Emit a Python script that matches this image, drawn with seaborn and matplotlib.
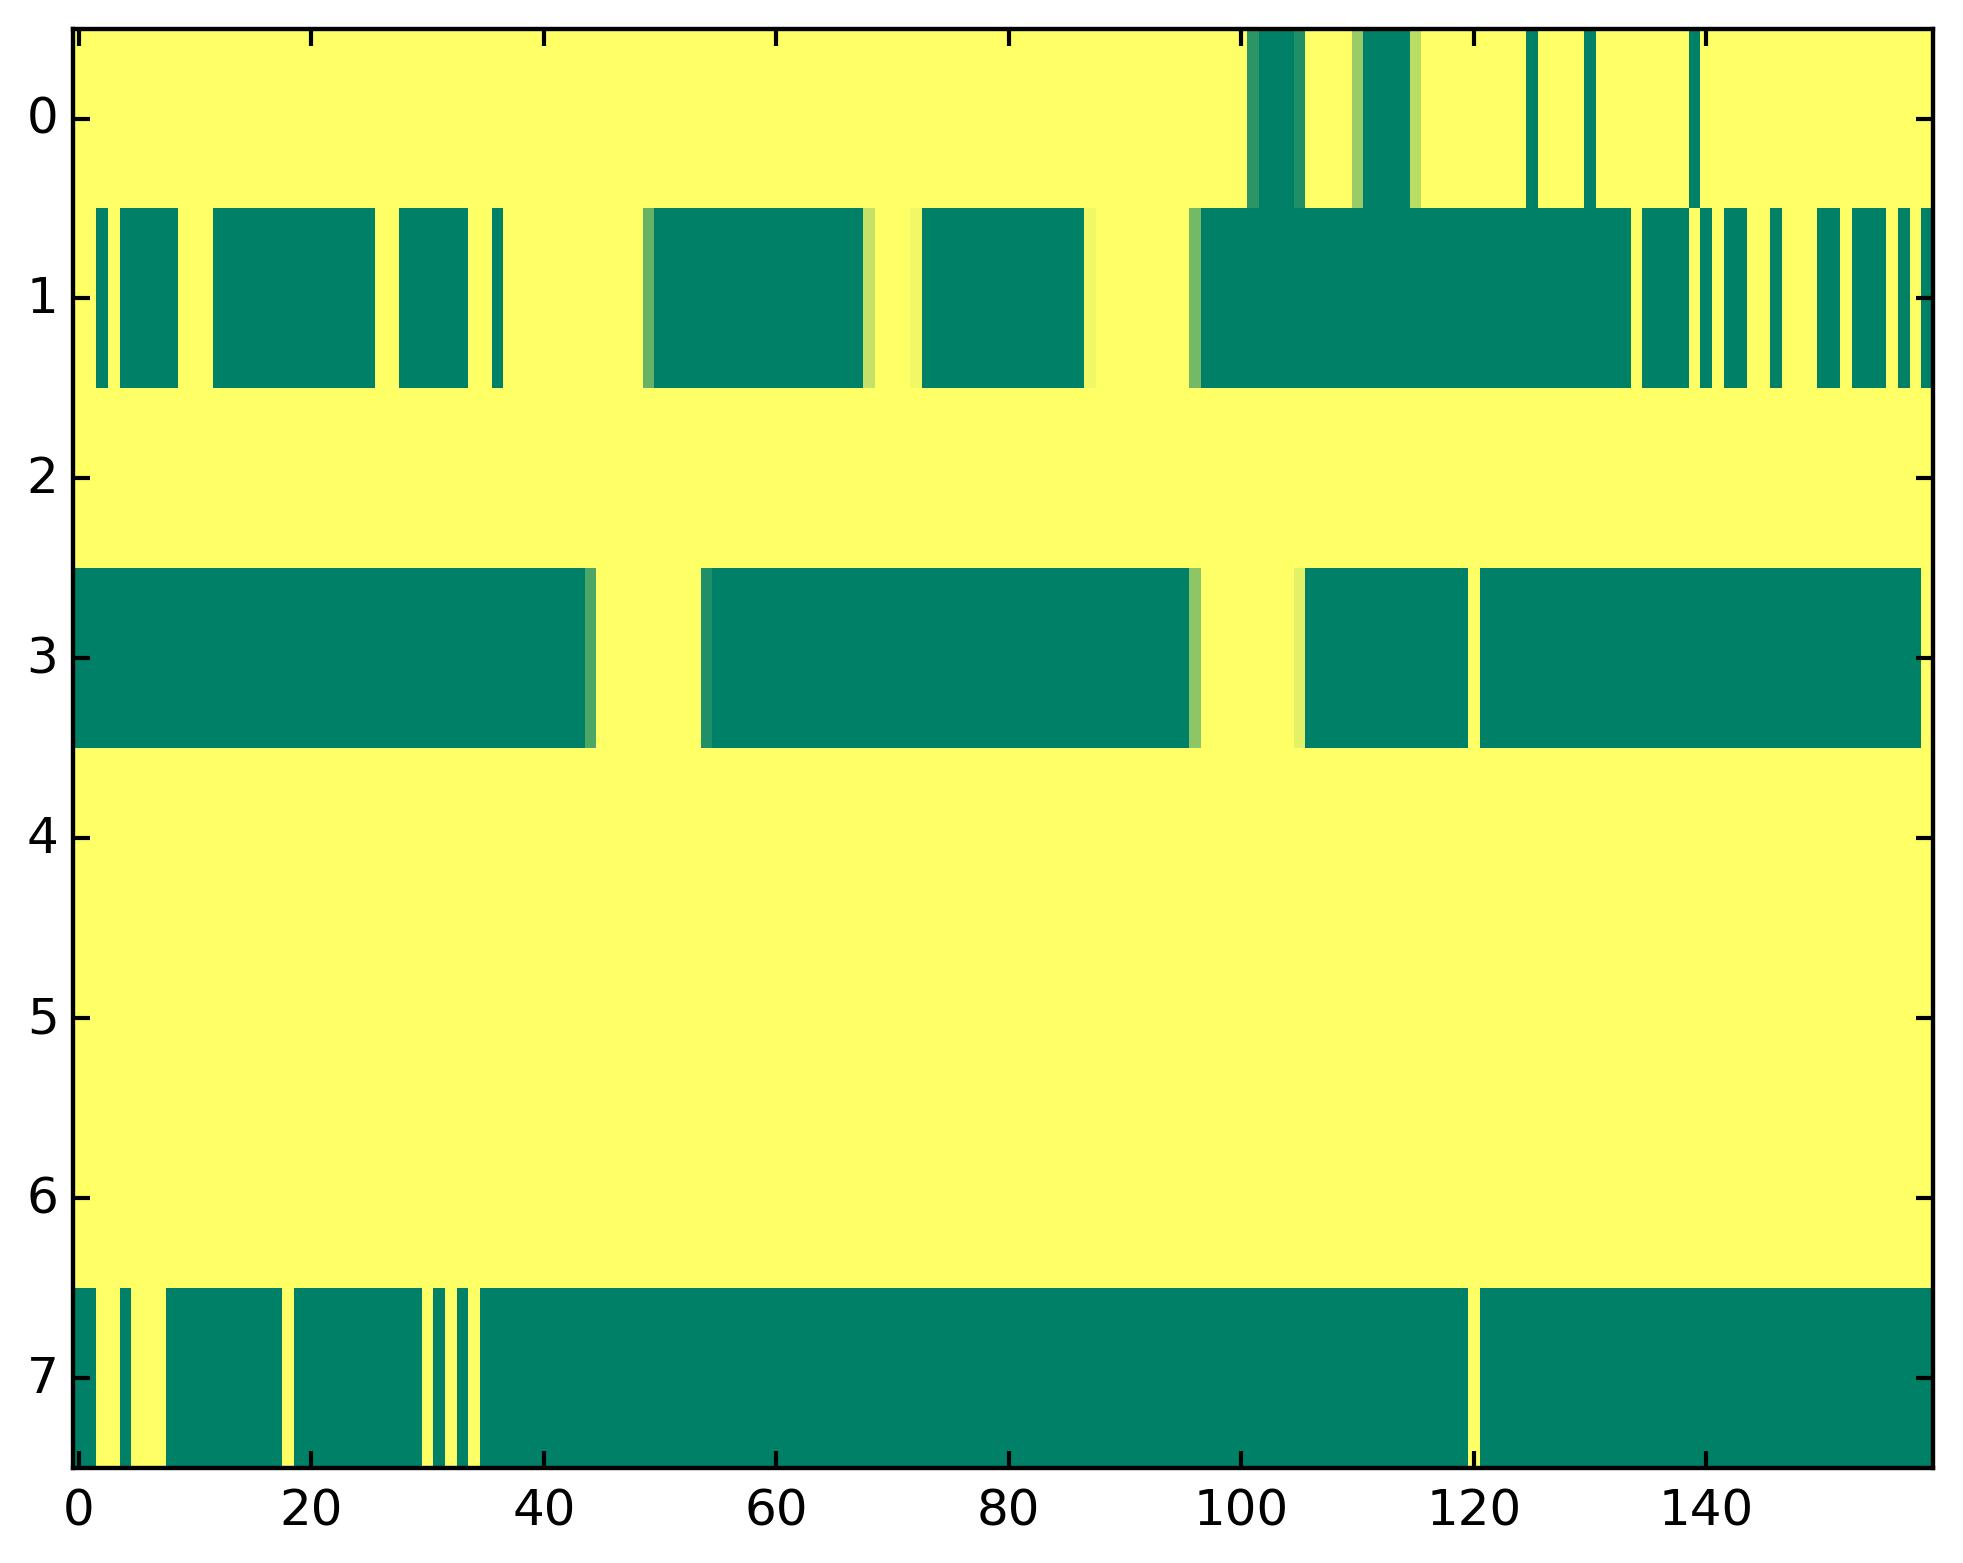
import matplotlib
matplotlib.use("Agg")
import matplotlib.pyplot as plt
import seaborn as sns
import numpy as np
import pandas as pd

# cell values (0 = green, 1 = yellow), 8 rows x 160 columns
row0 = [1, 1, 1, 1, 1, 1, 1, 1, 1, 1, 1, 1, 1, 1, 1, 1, 1, 1, 1, 1,
        1, 1, 1, 1, 1, 1, 1, 1, 1, 1, 1, 1, 1, 1, 1, 1, 1, 1, 1, 1,
        1, 1, 1, 1, 1, 1, 1, 1, 1, 1, 1, 1, 1, 1, 1, 1, 1, 1, 1, 1,
        1, 1, 1, 1, 1, 1, 1, 1, 1, 1, 1, 1, 1, 1, 1, 1, 1, 1, 1, 1,
        1, 1, 1, 1, 1, 1, 1, 1, 1, 1, 1, 1, 1, 1, 1, 1, 1, 1, 1, 1,
        1, 0.17, 0, 0, 0, 0.12, 1, 1, 1, 1, 0.6, 0, 0, 0, 0, 0.73, 1, 1, 1, 1,
        1, 1, 1, 1, 1, 0, 1, 1, 1, 1, 0, 1, 1, 1, 1, 1, 1, 1, 1, 0,
        1, 1, 1, 1, 1, 1, 1, 1, 1, 1, 1, 1, 1, 1, 1, 1, 1, 1, 1, 1]
row1 = [1, 1, 0, 1, 0, 0, 0, 0, 0, 1, 1, 1, 0, 0, 0, 0, 0, 0, 0, 0,
        0, 0, 0, 0, 0, 0, 1, 1, 0, 0, 0, 0, 0, 0, 1, 1, 0, 1, 1, 1,
        1, 1, 1, 1, 1, 1, 1, 1, 1, 0.4, 0, 0, 0, 0, 0, 0, 0, 0, 0, 0,
        0, 0, 0, 0, 0, 0, 0, 0, 0.77, 1, 1, 1, 0.94, 0, 0, 0, 0, 0, 0, 0,
        0, 0, 0, 0, 0, 0, 0, 0.94, 1, 1, 1, 1, 1, 1, 1, 1, 0.45, 0, 0, 0,
        0, 0, 0, 0, 0, 0, 0, 0, 0, 0, 0, 0, 0, 0, 0, 0, 0, 0, 0, 0,
        0, 0, 0, 0, 0, 0, 0, 0, 0, 0, 0, 0, 0, 0, 1, 0, 0, 0, 0, 1,
        0, 1, 0, 0, 1, 1, 0, 1, 1, 1, 0, 0, 1, 0, 0, 0, 1, 0, 1, 0]
row2 = [1, 1, 1, 1, 1, 1, 1, 1, 1, 1, 1, 1, 1, 1, 1, 1, 1, 1, 1, 1,
        1, 1, 1, 1, 1, 1, 1, 1, 1, 1, 1, 1, 1, 1, 1, 1, 1, 1, 1, 1,
        1, 1, 1, 1, 1, 1, 1, 1, 1, 1, 1, 1, 1, 1, 1, 1, 1, 1, 1, 1,
        1, 1, 1, 1, 1, 1, 1, 1, 1, 1, 1, 1, 1, 1, 1, 1, 1, 1, 1, 1,
        1, 1, 1, 1, 1, 1, 1, 1, 1, 1, 1, 1, 1, 1, 1, 1, 1, 1, 1, 1,
        1, 1, 1, 1, 1, 1, 1, 1, 1, 1, 1, 1, 1, 1, 1, 1, 1, 1, 1, 1,
        1, 1, 1, 1, 1, 1, 1, 1, 1, 1, 1, 1, 1, 1, 1, 1, 1, 1, 1, 1,
        1, 1, 1, 1, 1, 1, 1, 1, 1, 1, 1, 1, 1, 1, 1, 1, 1, 1, 1, 1]
row3 = [0, 0, 0, 0, 0, 0, 0, 0, 0, 0, 0, 0, 0, 0, 0, 0, 0, 0, 0, 0,
        0, 0, 0, 0, 0, 0, 0, 0, 0, 0, 0, 0, 0, 0, 0, 0, 0, 0, 0, 0,
        0, 0, 0, 0, 0.3, 1, 1, 1, 1, 1, 1, 1, 1, 1, 0.12, 0, 0, 0, 0, 0,
        0, 0, 0, 0, 0, 0, 0, 0, 0, 0, 0, 0, 0, 0, 0, 0, 0, 0, 0, 0,
        0, 0, 0, 0, 0, 0, 0, 0, 0, 0, 0, 0, 0, 0, 0, 0, 0.55, 1, 1, 1,
        1, 1, 1, 1, 1, 0.89, 0, 0, 0, 0, 0, 0, 0, 0, 0, 0, 0, 0, 0, 0,
        1, 0, 0, 0, 0, 0, 0, 0, 0, 0, 0, 0, 0, 0, 0, 0, 0, 0, 0, 0,
        0, 0, 0, 0, 0, 0, 0, 0, 0, 0, 0, 0, 0, 0, 0, 0, 0, 0, 0, 1]
row4 = list(row2)
row5 = list(row2)
row6 = list(row2)
row7 = [0, 0, 1, 1, 0, 1, 1, 1, 0, 0, 0, 0, 0, 0, 0, 0, 0, 0, 1, 0,
        0, 0, 0, 0, 0, 0, 0, 0, 0, 0, 1, 0, 1, 0, 1, 0, 0, 0, 0, 0,
        0, 0, 0, 0, 0, 0, 0, 0, 0, 0, 0, 0, 0, 0, 0, 0, 0, 0, 0, 0,
        0, 0, 0, 0, 0, 0, 0, 0, 0, 0, 0, 0, 0, 0, 0, 0, 0, 0, 0, 0,
        0, 0, 0, 0, 0, 0, 0, 0, 0, 0, 0, 0, 0, 0, 0, 0, 0, 0, 0, 0,
        0, 0, 0, 0, 0, 0, 0, 0, 0, 0, 0, 0, 0, 0, 0, 0, 0, 0, 0, 0,
        1, 0, 0, 0, 0, 0, 0, 0, 0, 0, 0, 0, 0, 0, 0, 0, 0, 0, 0, 0,
        0, 0, 0, 0, 0, 0, 0, 0, 0, 0, 0, 0, 0, 0, 0, 0, 0, 0, 0, 0]

x_ticks = [0, 20, 40, 60, 80, 100, 120, 140]
y_ticks = [0, 1, 2, 3, 4, 5, 6, 7]

grid = pd.DataFrame([row0, row1, row2, row3, row4, row5, row6, row7])

fig = plt.figure(figsize=(1963 / 300, 1564 / 300), dpi=300)
ax = fig.add_axes([0.0372, 0.0607, 0.9475, 0.9204])

sns.heatmap(grid, cmap="summer", vmin=0, vmax=1, cbar=False, ax=ax)

# heatmap strips the frame, put the classic one back
for s in ax.spines.values():
    s.set_visible(True)
    s.set_linewidth(1.05)
    s.set_color("black")

ax.set_xticks([t + 0.5 for t in x_ticks])
ax.set_xticklabels([str(t) for t in x_ticks], rotation=0)
ax.set_yticks([t + 0.5 for t in y_ticks])
ax.set_yticklabels([str(t) for t in y_ticks], rotation=0)
ax.tick_params(direction="in", top=True, right=True, length=4, width=1,
               labelsize=12, colors="black")
ax.tick_params(axis="y", pad=3.5)
ax.tick_params(axis="x", pad=4.5)

plt.savefig("out.png", dpi=300)
